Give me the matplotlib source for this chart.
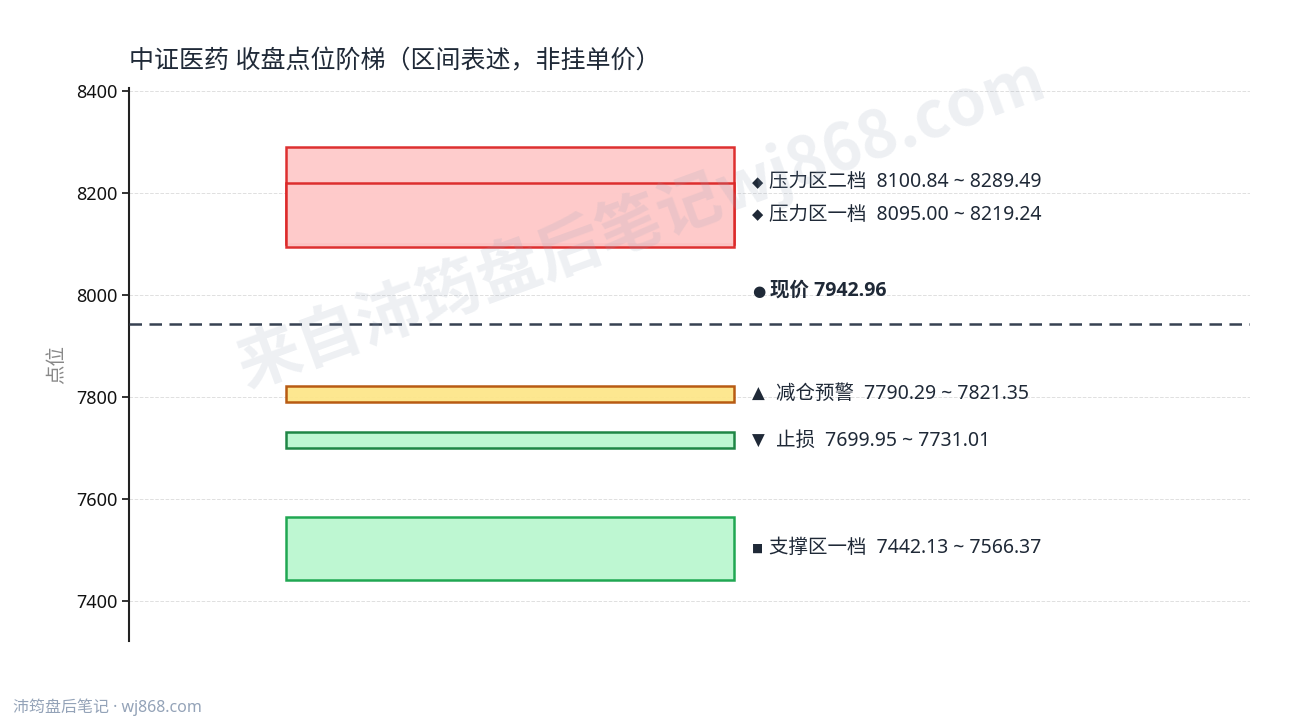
import matplotlib
matplotlib.use("Agg")
import matplotlib.pyplot as plt
from matplotlib.patches import Rectangle

plt.rcParams['font.family'] = ['Noto Sans', 'Noto Sans CJK SC', 'DejaVu Sans']

# zones
zone_names = ["压力区二档", "压力区一档", "减仓预警", "止损", "支撑区一档"]
zone_low = [8100.84, 8095.00, 7790.29, 7699.95, 7442.13]
zone_high = [8289.49, 8219.24, 7821.35, 7731.01, 7566.37]
zone_mark = ["◆", "◆", "▲", "▼", "■"]
zone_face = ["#fecaca", "#fecaca", "#fde68a", "#bbf7d0", "#bbf7d0"]
zone_edge = ["#dc2626", "#dc2626", "#b45309", "#15803d", "#16a34a"]

price = 7942.96
yticks = [7400, 7600, 7800, 8000, 8200, 8400]

title = "中证医药 收盘点位阶梯（区间表述，非挂单价）"
text_col = "#1f2937"

mark_size = {"◆": 10.5, "■": 8.5, "●": 11, "▲": 12, "▼": 12}
mark_gap = {"◆": 0.015, "■": 0.015, "●": 0.0165, "▲": 0.022, "▼": 0.022}

fig = plt.figure(figsize=(12.9, 7.2), dpi=100)
ax = fig.add_axes([0.1, 0.11, 0.869, 0.768])

x0, w = 0.14, 0.40
for lo, hi, fc, ec in zip(zone_low, zone_high, zone_face, zone_edge):
    ax.add_patch(Rectangle((x0, lo), w, hi - lo, facecolor=fc, edgecolor=ec,
                           lw=1.8, alpha=0.95, zorder=3))

# label positions: middle of zone, pushed apart if too close
mids = [(lo + hi) / 2 for lo, hi in zip(zone_low, zone_high)]
order = sorted(range(len(mids)), key=lambda i: mids[i])
pos = list(mids)
prev = None
for i in order:
    if prev is not None and pos[i] - pos[prev] < 64:
        pos[i] = pos[prev] + 64
    prev = i

lx = 0.5555
for i, name in enumerate(zone_names):
    m = zone_mark[i]
    ax.text(lx, pos[i], m, fontsize=mark_size[m], color=text_col,
            va="center", ha="left", zorder=5, family=['DejaVu Sans'])
    ax.text(lx + mark_gap[m], pos[i], f"{name}  {zone_low[i]:.2f} ~ {zone_high[i]:.2f}",
            fontsize=14, color=text_col, va="center", ha="left", zorder=5)

ax.axhline(price, color="#374151", lw=1.8, ls=(0, (5, 3)), zorder=4)
ax.text(lx, price + 65, "●", fontsize=mark_size["●"], color=text_col,
        va="center", ha="left", zorder=5, family=['DejaVu Sans'])
ax.text(lx + mark_gap["●"], price + 65, f"现价 {price:.2f}", fontsize=14,
        fontweight="bold", color=text_col, va="center", ha="left", zorder=5,
        family=['Open Sans', 'Noto Sans CJK SC'])

ax.set_xlim(0, 1)
ax.set_ylim(7323, 8406)
ax.set_yticks(yticks)
ax.set_xticks([])
ax.tick_params(axis="y", labelsize=13, length=5, width=1.2, colors="#111111")
ax.grid(axis="y", color="#e0e0e0", ls="--", lw=0.7)
ax.set_axisbelow(True)
for s in ["top", "right", "bottom"]:
    ax.spines[s].set_visible(False)
ax.spines["left"].set_linewidth(1.5)
ax.spines["left"].set_color("#222222")
ax.set_ylabel("点位", fontsize=14, color="#888888", labelpad=6)

ax.set_title(title, loc="left", fontsize=18, color=text_col, pad=14)

# watermark
fig.text(0.497, 0.69, "来自沛筠盘后笔记wj868.com", fontsize=46, fontweight="bold",
         color="#94a3b8", alpha=0.16, rotation=20, ha="center", va="center", zorder=10,
         family=['Noto Sans CJK SC'])

fig.text(0.01, 0.006, "沛筠盘后笔记 · wj868.com", fontsize=11.5, color="#94a3b8",
         ha="left", va="bottom")

fig.savefig("out.png", dpi=100)
